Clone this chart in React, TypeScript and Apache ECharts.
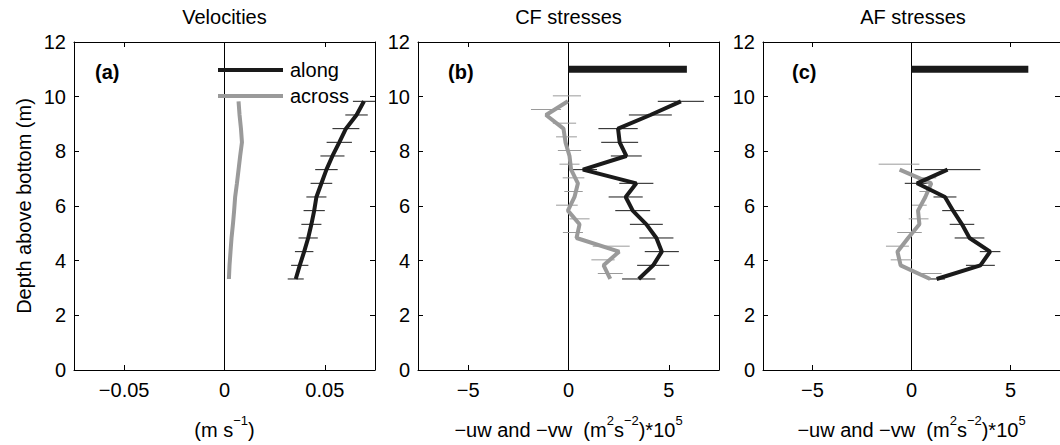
import React, { useEffect, useRef } from "react";
import * as echarts from "echarts";

// ---------- data ----------
const depths = [9.83, 9.33, 8.83, 8.33, 7.83, 7.33, 6.83, 6.33, 5.83, 5.33, 4.83, 4.33, 3.83, 3.33];

// (a) velocities (m/s)
const velAlong = [0.0695, 0.0658, 0.0605, 0.0572, 0.0538, 0.0508, 0.0483, 0.0458, 0.0447, 0.0433, 0.0417, 0.0397, 0.0375, 0.0355];
const velAlongErr = [0.0055, 0.0056, 0.0067, 0.0063, 0.006, 0.0056, 0.0054, 0.005, 0.0053, 0.005, 0.0048, 0.0046, 0.0043, 0.004];
const velAcross = [0.007, 0.0075, 0.0082, 0.0087, 0.0078, 0.007, 0.0062, 0.0053, 0.0048, 0.0042, 0.0035, 0.003, 0.0025, 0.0022];

// (b) CF stresses (x1e5)
const cfAlong = [5.6, 4.08, 2.47, 2.55, 2.88, 0.72, 3.38, 2.85, 3.2, 3.88, 4.38, 4.65, 4.22, 3.5];
const cfAlongErr = [1.15, 1.07, 0.98, 0.92, 0.77, 0.7, 0.85, 0.85, 0.87, 0.82, 0.85, 0.85, 0.8, 0.83];
const cfAcross = [-0.03, -1.12, -0.25, -0.15, 0.05, 0.13, 0.47, 0.3, -0.03, 0.55, 0.4, 2.52, 1.75, 2.08];
const cfAcrossErrDepths = [10.03, 9.53, 9.03, 8.53, 8.03, 7.53, 7.03, 6.53, 6.03, 5.53, 5.03, 4.53, 4.03, 3.53];
const cfAcrossErrCenter = [-0.08, -1.12, -0.2, -0.1, 0.05, 0.05, 0.25, 0.25, -0.08, 0.55, 0.22, 2.13, 1.72, 2.08];
const cfAcrossErr = [0.7, 0.75, 0.58, 0.52, 0.58, 0.5, 0.54, 0.46, 0.54, 0.5, 0.5, 0.92, 0.58, 0.62];

// (c) AF stresses (x1e5)
const afDepths = [7.33, 6.83, 6.33, 5.83, 5.33, 4.83, 4.33, 3.83, 3.33];
const afAlong = [1.82, 0.28, 1.69, 2.1, 2.55, 2.93, 3.97, 3.48, 1.27];
const afAlongErr = [1.66, 0.62, 0.58, 0.55, 0.62, 0.75, 0.52, 0.73, 0.42];
const afAcross = [-0.6, 1.0, 0.7, 0.33, 0.4, -0.17, -0.71, -0.55, 0.94];
const afAcrossErrDepths = [7.53, 7.03, 6.53, 6.03, 5.53, 5.03, 4.53, 4.03, 3.53];
const afAcrossErrCenter = [-0.63, 0.9, 0.71, 0.4, 0.36, -0.1, -0.71, -0.51, 0.94];
const afAcrossErr = [1.03, 0.35, 0.31, 0.37, 0.5, 0.62, 0.58, 0.54, 0.58];

// scale bar in (b) and (c)
const scaleBarLength = 5.9;
const scaleBarDepth = 11;

const panelTitles = ["Velocities", "CF stresses", "AF stresses"];
const panelLetters = ["(a)", "(b)", "(c)"];
const xTicksVel = [-0.05, 0, 0.05];
const xTicksStress = [-5, 0, 5];
const yTicks = { min: 0, max: 12, interval: 2 };
const legendNames = ["along", "across"];

// ---------- style ----------
const FONT = "'Liberation Sans', Arial, Helvetica, sans-serif";
const BLACK = "#1a1a1a";
const GRAY = "#9a9a9a";
const FS = 20;

const grids = [
  { left: 74, top: 42, width: 301, height: 336 },
  { left: 418, top: 42, width: 301, height: 336 },
  { left: 763, top: 42, width: 300, height: 336 },
];

const fmt = (v: number) => (v < 0 ? "\u2212" + String(Math.abs(v)) : String(v));

function errBars(centers: number[], errs: number[], ds: number[], color: string, gi: number) {
  return {
    type: "custom",
    xAxisIndex: gi * 2,
    yAxisIndex: gi * 2,
    clip: true,
    silent: true,
    z: 2,
    dimensions: ["lo", "hi", "d"],
    encode: { x: [0, 1], y: 2 },
    data: centers.map((c, i) => [c - errs[i], c + errs[i], ds[i]]),
    renderItem: (_p: any, api: any) => {
      const a = api.coord([api.value(0), api.value(2)]);
      const b = api.coord([api.value(1), api.value(2)]);
      return {
        type: "line",
        shape: { x1: a[0], y1: a[1], x2: b[0], y2: b[1] },
        style: { stroke: color, lineWidth: 1 },
      };
    },
  };
}

function lineSeries(xs: number[], ds: number[], color: string, gi: number, width = 4) {
  return {
    type: "line",
    xAxisIndex: gi * 2,
    yAxisIndex: gi * 2,
    data: xs.map((x, i) => [x, ds[i]]),
    symbol: "none",
    silent: true,
    z: 3,
    lineStyle: { color, width },
  };
}

function zeroLine(gi: number) {
  return {
    type: "line",
    xAxisIndex: gi * 2,
    yAxisIndex: gi * 2,
    data: [[0, yTicks.min], [0, yTicks.max]],
    symbol: "none",
    silent: true,
    z: 1,
    lineStyle: { color: "#000", width: 1 },
  };
}

export default function App() {
  const ref = useRef<HTMLDivElement>(null);
  useEffect(() => {
    if (!ref.current) return;
    const chart = echarts.init(ref.current, undefined, { renderer: "svg" });

    const xAxes: any[] = [];
    const yAxes: any[] = [];
    grids.forEach((_g, gi) => {
      const isVel = gi === 0;
      const lim = isVel ? 0.075 : 7.5;
      const ticks = isVel ? xTicksVel : xTicksStress;
      const base = {
        type: "value",
        gridIndex: gi,
        min: -lim,
        max: lim,
        splitLine: { show: false },
        axisLine: { show: true, onZero: false, lineStyle: { color: "#000", width: 1 } },
        axisTick: { show: true, inside: true, length: 5, customValues: ticks, lineStyle: { color: "#000" } },
      };
      xAxes.push({
        ...base,
        position: "bottom",
        axisLabel: {
          customValues: ticks,
          formatter: fmt,
          fontSize: FS,
          fontFamily: FONT,
          color: "#000",
          margin: 10,
        },
        name: isVel
          ? "{a|(m s}{s|\u22121}{a|)}"
          : "{a|\u2212uw and \u2212vw  (m}{s|2}{a|s}{s|\u22122}{a|)*10}{s|5}",
        nameLocation: "middle",
        nameGap: 44,
        nameTextStyle: {
          rich: {
            a: { fontSize: FS, fontFamily: FONT, color: "#000", lineHeight: 26, verticalAlign: "bottom" },
            s: { fontSize: 13, fontFamily: FONT, color: "#000", lineHeight: 26, verticalAlign: "top" },
          },
        },
      });
      xAxes.push({ ...base, position: "top", axisLabel: { show: false } });

      const ybase = {
        type: "value",
        gridIndex: gi,
        min: yTicks.min,
        max: yTicks.max,
        interval: yTicks.interval,
        splitLine: { show: false },
        axisLine: { show: true, onZero: false, lineStyle: { color: "#000", width: 1 } },
        axisTick: { show: true, inside: true, length: 5, lineStyle: { color: "#000" } },
      };
      yAxes.push({
        ...ybase,
        position: "left",
        axisLabel: { fontSize: FS, fontFamily: FONT, color: "#000", margin: 8 },
        ...(gi === 0
          ? {
              name: "Depth above bottom (m)",
              nameLocation: "middle",
              nameGap: 40,
              nameTextStyle: { fontSize: FS, fontFamily: FONT, color: "#000" },
            }
          : {}),
      });
      yAxes.push({ ...ybase, position: "right", axisLabel: { show: false } });
    });

    const series: any[] = [
      zeroLine(0),
      zeroLine(1),
      zeroLine(2),
      // (a)
      errBars(velAlong, velAlongErr, depths, BLACK, 0),
      lineSeries(velAcross, depths, GRAY, 0),
      lineSeries(velAlong, depths, BLACK, 0),
      // (b)
      errBars(cfAlong, cfAlongErr, depths, BLACK, 1),
      errBars(cfAcrossErrCenter, cfAcrossErr, cfAcrossErrDepths, GRAY, 1),
      lineSeries(cfAcross, depths, GRAY, 1),
      lineSeries(cfAlong, depths, BLACK, 1),
      lineSeries([0, scaleBarLength], [scaleBarDepth, scaleBarDepth], BLACK, 1, 7),
      // (c)
      errBars(afAlong, afAlongErr, afDepths, BLACK, 2),
      errBars(afAcrossErrCenter, afAcrossErr, afAcrossErrDepths, GRAY, 2),
      lineSeries(afAcross, afDepths, GRAY, 2),
      lineSeries(afAlong, afDepths, BLACK, 2),
      lineSeries([0, scaleBarLength], [scaleBarDepth, scaleBarDepth], BLACK, 2, 7),
    ];

    const graphic: any[] = [];
    grids.forEach((g, gi) => {
      graphic.push({
        type: "text",
        x: g.left + g.width / 2,
        y: 17,
        style: {
          text: panelTitles[gi],
          font: `${FS}px ${FONT}`,
          fill: "#000",
          textAlign: "center",
          textVerticalAlign: "middle",
          align: "center",
          verticalAlign: "middle",
        },
      });
    });
    const letterX = [95, 448, 792];
    panelLetters.forEach((t, i) => {
      graphic.push({
        type: "text",
        x: letterX[i],
        y: 72,
        style: {
          text: t,
          font: `bold ${FS}px ${FONT}`,
          fill: "#000",
          textAlign: "left",
          textVerticalAlign: "middle",
          align: "left",
          verticalAlign: "middle",
        },
      });
    });
    // legend in panel (a)
    const legendColors = [BLACK, GRAY];
    const legendY = [70, 96];
    legendNames.forEach((n, i) => {
      graphic.push({
        type: "line",
        shape: { x1: 218, y1: legendY[i], x2: 283, y2: legendY[i] },
        style: { stroke: legendColors[i], lineWidth: 4 },
        z: 10,
      });
      graphic.push({
        type: "text",
        x: 290,
        y: legendY[i],
        z: 10,
        style: {
          text: n,
          font: `${FS}px ${FONT}`,
          fill: "#000",
          textAlign: "left",
          textVerticalAlign: "middle",
          align: "left",
          verticalAlign: "middle",
        },
      });
    });

    chart.setOption({
      animation: false,
      backgroundColor: "#fff",
      grid: grids.map((g) => ({ ...g, containLabel: false })),
      xAxis: xAxes,
      yAxis: yAxes,
      series,
      graphic,
    });
    return () => chart.dispose();
  }, []);

  return (
    <div
      ref={ref}
      style={{ position: "fixed", left: 0, top: 0, width: 1060, height: 445, background: "#fff" }}
    />
  );
}
